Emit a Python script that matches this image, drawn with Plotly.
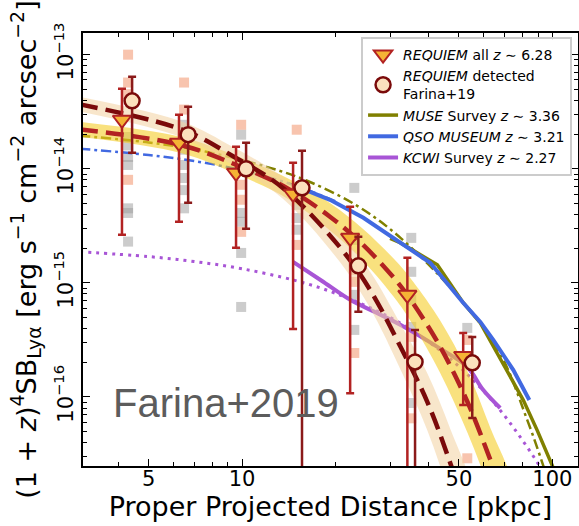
import numpy as np
import plotly.graph_objects as go

# ---------------- data ----------------
# REQUIEM stacked profiles (all quasars)
all_r = [4.10, 6.26, 9.56, 14.6, 22.3, 34.1, 51.6]
all_sb = [2.69e-14, 1.69e-14, 9.23e-15, 6.04e-15, 2.48e-15, 7.85e-16, 2.29e-16]
all_hi = [5.04e-14, 2.98e-14, 1.56e-14, 1.13e-14, 4.65e-15, 1.66e-15, 3.64e-16]
all_lo = [2.64e-15, 3.43e-15, 2.03e-15, 3.94e-16, 1.08e-16, 0.0, 8.5e-17]

# REQUIEM stacked profiles (detected nebulae)
det_r = [4.42, 6.70, 10.3, 15.6, 23.7, 36.1, 55.2]
det_sb = [3.94e-14, 1.99e-14, 1.00e-14, 6.81e-15, 1.41e-15, 2.03e-16, 1.99e-16]
det_hi = [6.41e-14, 3.50e-14, 1.69e-14, 1.44e-14, 2.54e-15, 3.87e-16, 3.36e-16]
det_lo = [1.38e-14, 5.04e-15, 2.98e-15, 0.0, 5.57e-16, 0.0, 6.55e-17]

# individual quasar profiles
ind_det_r = [4.29, 4.29, 4.29, 4.29, 6.50, 6.50, 9.93, 9.93, 9.93, 9.93,
             15.0, 15.0, 15.0, 23.0, 23.0, 23.0, 35.1, 35.1, 53.2, 53.2]
ind_det_sb = [1.0e-13, 5.7e-14, 4.5e-14, 8.0e-15, 5.7e-14, 3.3e-14, 2.43e-14, 7.24e-15,
              5.35e-15, 2.8e-15, 2.2e-14, 5.9e-15, 2.15e-15, 1.3e-15, 1.02e-15,
              2.43e-16, 3.36e-16, 6.5e-17, 3.16e-16, 2.9e-17]
ind_non_r = [4.29, 4.29, 4.29, 4.29, 4.29, 4.29, 4.29, 6.50, 6.50, 6.50, 6.50, 6.50, 6.50,
             9.93, 9.93, 9.93, 9.93, 9.93, 15.0, 15.0, 15.0, 23.0, 23.0, 23.0, 23.0,
             35.1, 35.1, 35.1, 35.1, 35.1, 53.2]
ind_non_sb = [1.9e-14, 1.6e-14, 1.27e-14, 1.08e-14, 4.5e-15, 4.1e-15, 2.3e-15,
              2.43e-14, 1.47e-14, 1.08e-14, 8.3e-15, 6.5e-15, 4.5e-15,
              1.99e-14, 4.1e-15, 3.43e-15, 1.83e-15, 6.15e-16,
              4.83e-15, 3.7e-15, 2.92e-15,
              6.8e-15, 2.38e-15, 7.85e-16, 3.87e-16,
              2.48e-15, 1.25e-15, 7.1e-16, 4.11e-16, 8.85e-17,
              4.03e-16]

# exponential fits to the REQUIEM profiles (median and 1-sigma envelope, log10 SB)
fit_all_r = [3.0, 6.31, 9.85, 13.97, 19.2, 24.6, 31.6, 35.6, 43.5, 53.2, 63.1, 75.0]
fit_all_log = [-13.655, -13.79, -13.98, -14.17, -14.42, -14.67, -14.99, -15.18, -15.56,
               -16.04, -16.55, -17.1]
fit_all_err = [0.065, 0.07, 0.08, 0.09, 0.12, 0.14, 0.17, 0.19, 0.23, 0.27, 0.28, 0.30]

fit_det_r = [3.0, 6.45, 9.35, 13.56, 20.7, 25.9, 32.4, 39.5, 46.9, 55.0]
fit_det_log = [-13.435, -13.66, -13.89, -14.17, -14.69, -15.065, -15.56, -16.04, -16.58,
               -17.16]
fit_det_err = [0.065, 0.07, 0.08, 0.095, 0.13, 0.16, 0.2, 0.25, 0.3, 0.35]

# MUSE survey z~3.36 (profile and fit)
muse_r = [30.0, 32.3, 42.6, 51.6, 58.6, 80.6, 89.4, 100.0, 110.0]
muse_sb = [2.45e-15, 2.25e-15, 1.44e-15, 6.7e-16, 4.45e-16, 9.4e-17, 5.1e-17, 2.5e-17, 1.2e-17]
muse_fit_r = [3.0, 5.0, 7.3, 12.0, 16.2, 23.5, 32.4, 51.6, 67.9, 83.0, 93.5, 100.0]
muse_fit_sb = [1.95e-14, 1.70e-14, 1.45e-14, 1.04e-14, 7.85e-15, 4.73e-15, 2.48e-15,
               6.76e-16, 2.4e-16, 6.3e-17, 2.5e-17, 1.4e-17]

# QSO MUSEUM z~3.21 (profile and fit)
qsom_r = [15.4, 19.2, 24.6, 31.6, 40.4, 51.6, 58.6, 64.5, 74.8, 84.3]
qsom_sb = [6.8e-15, 5.35e-15, 3.72e-15, 2.38e-15, 1.50e-15, 6.7e-16, 4.55e-16, 3.16e-16,
           1.73e-16, 9.4e-17]
qsom_fit_r = [3.0, 5.0, 7.0, 10.0, 13.0, 16.0, 20.0]
qsom_fit_sb = [1.50e-14, 1.32e-14, 1.17e-14, 9.7e-15, 8.0e-15, 6.6e-15, 5.2e-15]

# KCWI survey z~2.27 (profile and fit)
kcwi_r = [14.6, 18.0, 22.3, 27.0, 33.0, 42.6, 53.2, 59.9, 67.9]
kcwi_sb = [1.53e-15, 1.05e-15, 7.1e-16, 5.5e-16, 4.17e-16, 2.75e-16, 1.83e-16, 1.15e-16, 8.0e-17]
kcwi_fit_r = [3.0, 5.0, 7.0, 10.0, 15.0, 20.0, 30.0, 40.0, 50.0, 60.0, 70.0, 80.0, 90.0, 100.0]
kcwi_fit_sb = [1.87e-15, 1.70e-15, 1.54e-15, 1.33e-15, 1.04e-15, 8.1e-16, 4.97e-16, 3.03e-16,
               1.85e-16, 1.13e-16, 6.9e-17, 4.2e-17, 2.6e-17, 1.6e-17]

x_tickvals = [5, 10, 50, 100]
x_ticktext = ["5", "10", "50", "100"]
y_exponents = [-16, -15, -14, -13]

# ---------------- colours ----------------
RED = "#b22222"
DARKRED = "#7a0a0a"
OLIVE = "#808000"
BLUE = "#4169e1"
PURPLE = "#a855d6"

fig = go.Figure()

# individual profiles
fig.add_trace(go.Scatter(x=ind_non_r, y=ind_non_sb, mode="markers", showlegend=False,
                         marker=dict(symbol="square", size=10, color="#9a9a9a", opacity=0.5)))
fig.add_trace(go.Scatter(x=ind_det_r, y=ind_det_sb, mode="markers", showlegend=False,
                         marker=dict(symbol="square", size=10, color="#f4a582", opacity=0.65)))

# literature fits (drawn below the bands)
fig.add_trace(go.Scatter(x=kcwi_fit_r, y=kcwi_fit_sb, mode="lines", showlegend=False,
                         line=dict(color=PURPLE, width=3, dash="3px,5px", shape="spline")))
fig.add_trace(go.Scatter(x=kcwi_r, y=kcwi_sb, mode="lines", name="<i>KCWI</i> Survey <i>z</i> ∼ 2.27",
                         legendrank=5, line=dict(color=PURPLE, width=4, shape="spline")))
fig.add_trace(go.Scatter(x=qsom_fit_r, y=qsom_fit_sb, mode="lines", showlegend=False,
                         line=dict(color=BLUE, width=2.5, dash="10px,4px,3px,4px", shape="spline")))
fig.add_trace(go.Scatter(x=muse_fit_r, y=muse_fit_sb, mode="lines", showlegend=False,
                         line=dict(color=OLIVE, width=2.5, dash="10px,4px,3px,4px", shape="spline")))

# 1-sigma envelopes of the REQUIEM fits
def band(r, logc, err):
    up = [10 ** (c + e) for c, e in zip(logc, err)]
    lo = [10 ** (c - e) for c, e in zip(logc, err)]
    return list(r) + list(r)[::-1], up + lo[::-1]

bx, by = band(fit_all_r, fit_all_log, fit_all_err)
fig.add_trace(go.Scatter(x=bx, y=by, mode="lines", fill="toself", showlegend=False,
                         fillcolor="rgba(245,205,40,0.6)", line=dict(width=0, shape="spline")))
bx, by = band(fit_det_r, fit_det_log, fit_det_err)
fig.add_trace(go.Scatter(x=bx, y=by, mode="lines", fill="toself", showlegend=False,
                         fillcolor="rgba(243,210,160,0.55)", line=dict(width=0, shape="spline")))

# survey profiles above the bands
fig.add_trace(go.Scatter(x=muse_r, y=muse_sb, mode="lines", name="<i>MUSE</i> Survey <i>z</i> ∼ 3.36",
                         legendrank=3, line=dict(color=OLIVE, width=3.5)))
fig.add_trace(go.Scatter(x=qsom_r, y=qsom_sb, mode="lines",
                         name="<i>QSO MUSEUM</i> <i>z</i> ∼ 3.21",
                         legendrank=4, line=dict(color=BLUE, width=4)))

# REQUIEM fit medians
fig.add_trace(go.Scatter(x=fit_all_r, y=[10 ** v for v in fit_all_log], mode="lines",
                         showlegend=False,
                         line=dict(color=RED, width=4.5, dash="18px,8px", shape="spline")))
fig.add_trace(go.Scatter(x=fit_det_r, y=[10 ** v for v in fit_det_log], mode="lines",
                         showlegend=False,
                         line=dict(color=DARKRED, width=4.5, dash="18px,8px", shape="spline")))

# stacked points with error bars
all_plus = [h - v for h, v in zip(all_hi, all_sb)]
all_minus = [v - l for l, v in zip(all_lo, all_sb)]
det_plus = [h - v for h, v in zip(det_hi, det_sb)]
det_minus = [v - l for l, v in zip(det_lo, det_sb)]

fig.add_trace(go.Scatter(
    x=all_r, y=all_sb, mode="markers", name="<i>REQUIEM</i> all <i>z</i> ∼ 6.28", legendrank=1,
    marker=dict(symbol="triangle-down", size=16, color="#f5b335",
                line=dict(color=RED, width=2)),
    error_y=dict(type="data", symmetric=False, array=all_plus, arrayminus=all_minus,
                 color=RED, thickness=2.5, width=4)))
fig.add_trace(go.Scatter(
    x=det_r, y=det_sb, mode="markers", name="<i>REQUIEM</i> detected<br>Farina+19", legendrank=2,
    marker=dict(symbol="circle", size=15, color="#fbe0bd",
                line=dict(color=DARKRED, width=2.5)),
    error_y=dict(type="data", symmetric=False, array=det_plus, arrayminus=det_minus,
                 color="#8b1a1a", thickness=2.5, width=4)))

# ---------------- axes ----------------
x_minor = [m * 10 ** e for e in (0, 1, 2) for m in range(2, 10)]
x_minor = [v for v in x_minor if v not in x_tickvals]
y_major = [10.0 ** e for e in y_exponents]
y_text = ["10<sup>−%d</sup>" % (-e) for e in y_exponents]
y_minor = [m * 10.0 ** e for e in range(-17, -12) for m in range(2, 10)]

fig.update_xaxes(
    type="log", range=[np.log10(3.07), np.log10(121)],
    tickvals=x_tickvals, ticktext=x_ticktext,
    ticks="inside", ticklen=7, tickwidth=1, tickcolor="black",
    minor=dict(tickvals=x_minor, ticks="inside", ticklen=4, tickwidth=1, tickcolor="black"),
    showline=True, linecolor="black", linewidth=1.5, mirror="allticks",
    showgrid=False, zeroline=False, ticklabelstandoff=-7,
    tickfont=dict(family="DejaVu Sans", size=21, color="black"),
    title=dict(text="Proper Projected Distance [pkpc]",
               font=dict(family="DejaVu Sans", size=27, color="black"), standoff=2),
)
fig.update_yaxes(
    type="log", range=[-16.605, -12.81],
    tickvals=y_major, ticktext=y_text, tickangle=-90,
    ticks="inside", ticklen=7, tickwidth=1, tickcolor="black",
    minor=dict(tickvals=y_minor, ticks="inside", ticklen=4, tickwidth=1, tickcolor="black"),
    showline=True, linecolor="black", linewidth=1.5, mirror="allticks",
    showgrid=False, zeroline=False,
    tickfont=dict(family="DejaVu Sans", size=21, color="black"),
    title=dict(text="(1 + <i>z</i>)<sup>4</sup>SB<sub>Lyα</sub> [erg s<sup>−1</sup> cm<sup>−2</sup> arcsec<sup>−2</sup>]",
               font=dict(family="DejaVu Sans", size=27, color="black"), standoff=6),
)

fig.add_annotation(text="Farina+2019", xref="paper", yref="paper", x=0.289, y=0.1455,
                   xanchor="center", yanchor="middle", showarrow=False,
                   font=dict(family="Liberation Sans", size=40, color="#5c5c5c"))

fig.update_layout(
    width=579, height=526,
    margin=dict(l=83, r=1, t=33, b=60, autoexpand=False),
    paper_bgcolor="white", plot_bgcolor="white",
    showlegend=True,
    legend=dict(x=0.988, y=0.991, xanchor="right", yanchor="top",
                bgcolor="rgba(255,255,255,0.9)", bordercolor="#cccccc", borderwidth=2,
                font=dict(family="DejaVu Sans", size=14, color="black"),
                tracegroupgap=0, itemwidth=30),
)

fig.write_html("out.html")
